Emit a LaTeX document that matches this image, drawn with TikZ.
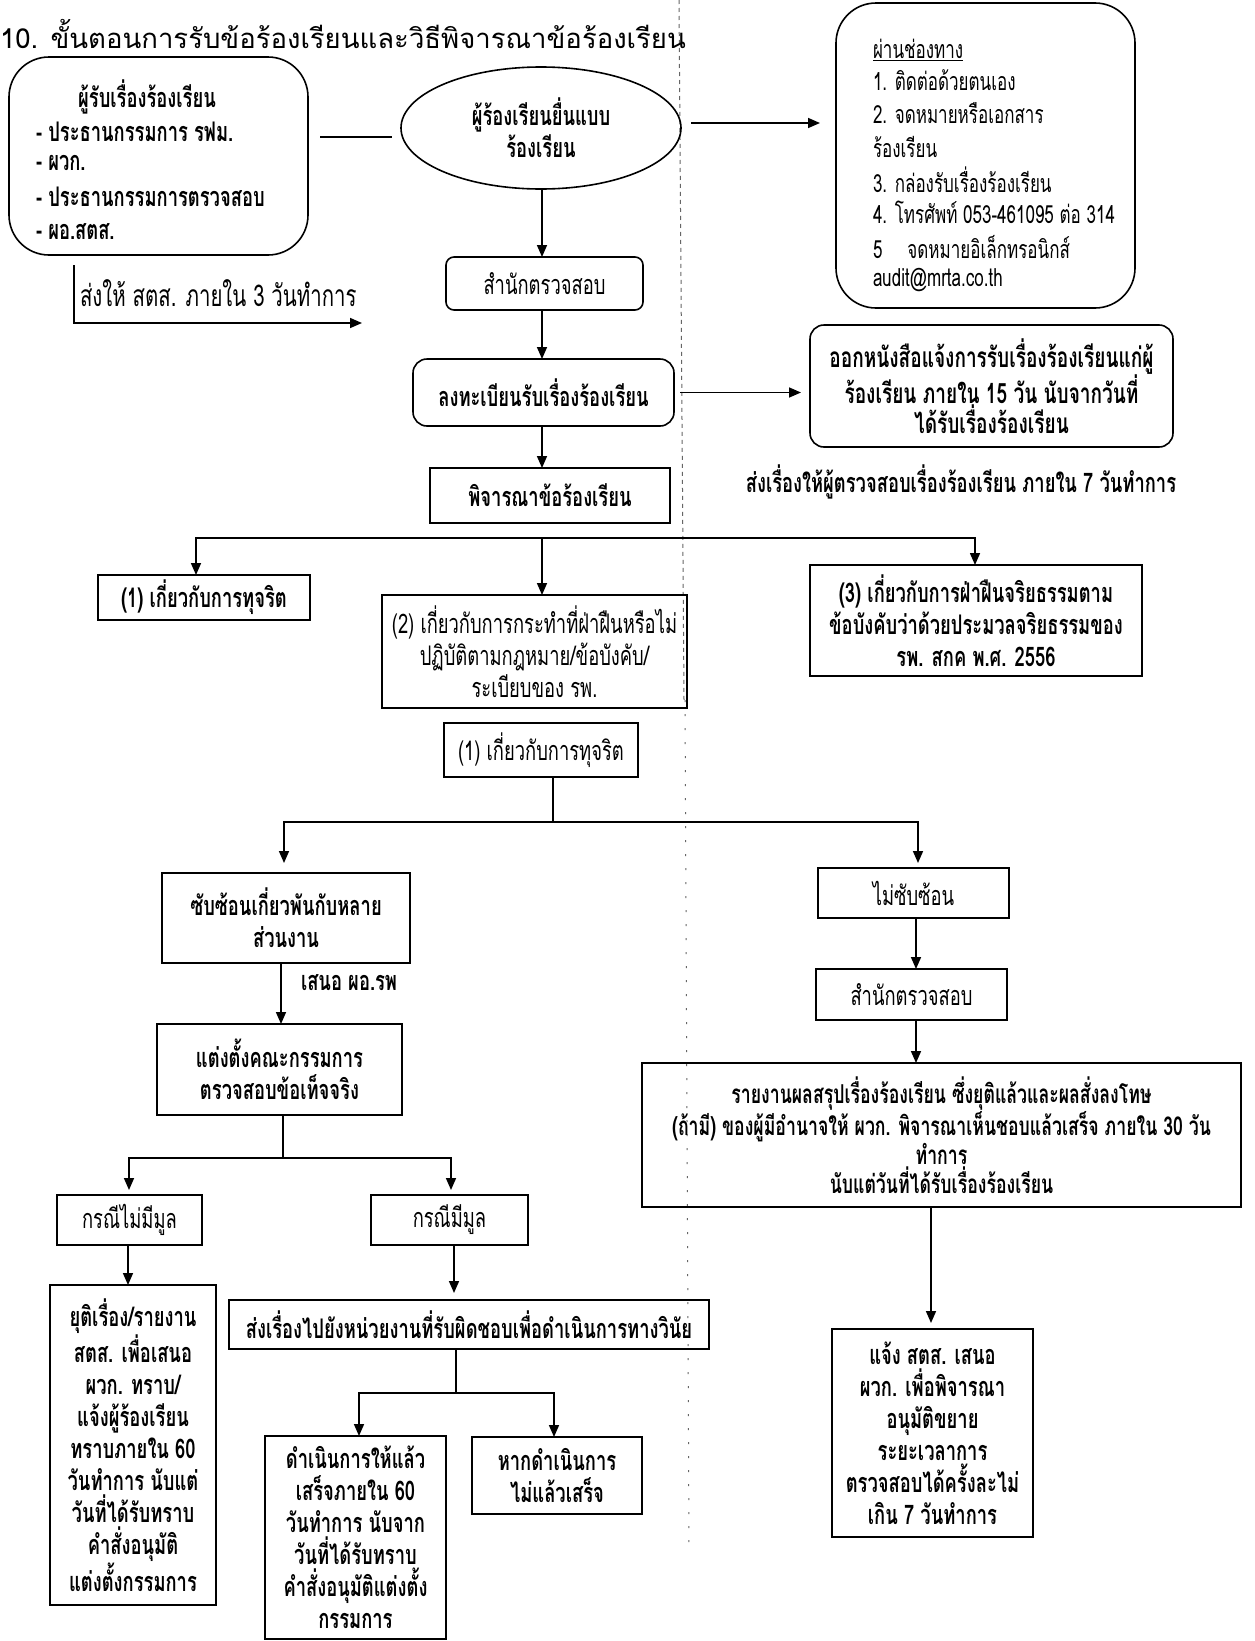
\documentclass[tikz,border=0pt]{standalone}
\usepackage{fontspec}
\usetikzlibrary{arrows.meta,shapes.geometric,calc}
\newfontfamily\thaic[Script=Thai,FakeStretch=0.68]{Loma}
\newfontfamily\thait[Script=Thai]{Loma}
\newcommand{\tfb}{\thaic\bfseries\fontsize{27}{32}\selectfont}
\newcommand{\tfr}{\thaic\fontsize{27}{32}\selectfont}
\newcommand{\tfrB}{\thaic\fontsize{25}{32}\selectfont}
\newcommand{\tfbF}{\thaic\bfseries\fontsize{28}{27.5}\selectfont}
\newcommand{\tfbR}{\thaic\bfseries\fontsize{26}{29}\selectfont}
\newcommand{\tfl}{\thaic\fontsize{30}{32}\selectfont}
\newcommand{\tft}{\thait\fontsize{27.5}{34}\selectfont}
\begin{document}
\begin{tikzpicture}[x=1pt,y=-1pt,
  every node/.style={inner sep=0pt,outer sep=0pt},
  box/.style={draw,line width=1.6pt,align=center,font=\tfb},
  rbox/.style={box,rounded corners=#1},
  rbox/.default=10,
  ln/.style={line width=1.6pt},
  arr/.style={ln,-{Triangle[length=12pt,width=10pt]}},
  scan/.style={black!60,line width=1pt}]
\useasboundingbox (0,0) rectangle (1255,1641);
\fill[white] (0,0) rectangle (1255,1641);

% scan fold line
\draw[scan,dash pattern=on 4pt off 4pt] (679,0) -- (684,700);
\draw[scan,dash pattern=on 2pt off 12pt] (685,700) -- (689,1545);

% title
\node[anchor=west,font=\tft] (title) at (0,34) {10. ขั้นตอนการรับข้อร้องเรียนและวิธีพิจารณาข้อร้องเรียน};

% box A
\node[rbox=40,minimum width=299,minimum height=198] (boxA) at (158.5,156) {};
\node[font=\tfb] (A0) at (147,97) {ผู้รับเรื่องร้องเรียน};
\node[font=\tfb,anchor=west] (A1) at (36,132) {- ประธานกรรมการ รฟม.};
\node[font=\tfb,anchor=west] (A2) at (36,163) {- ผวก.};
\node[font=\tfb,anchor=west] (A3) at (36,197) {- ประธานกรรมการตรวจสอบ};
\node[font=\tfb,anchor=west] (A4) at (36,232) {- ผอ.สตส.};

% ellipse
\node[draw,ellipse,line width=1.6pt,minimum width=280,minimum height=122,align=center,font=\tfb] (ell) at (541,128) {ผู้ร้องเรียนยื่นแบบ\\ร้องเรียน};

% box B
\node[rbox=40,minimum width=299,minimum height=305] (boxB) at (985.5,155.5) {};
\node[font=\tfrB,anchor=west] (B0) at (873,50) {\underline{ผ่านช่องทาง}};
\node[font=\tfrB,anchor=west] (B1) at (873,80) {1. ติดต่อด้วยตนเอง};
\node[font=\tfrB,anchor=west] (B2) at (873,113) {2. จดหมายหรือเอกสาร};
\node[font=\tfrB,anchor=west] (B3) at (873,147) {ร้องเรียน};
\node[font=\tfrB,anchor=west] (B4) at (873,180) {3. กล่องรับเรื่องร้องเรียน};
\node[font=\tfrB,anchor=west] (B5) at (873,212) {4. โทรศัพท์ 053-461095 ต่อ 314};
\node[font=\tfrB,anchor=west] (B6) at (873,247) {5\quad จดหมายอิเล็กทรอนิกส์};
\node[font=\tfrB,anchor=west] (B7) at (873,280) {audit@mrta.co.th};

% main column
\node[rbox=8,font=\tfr,minimum width=197,minimum height=53] (boxC) at (544.5,283.5) {สำนักตรวจสอบ};
\node[rbox=14,minimum width=261,minimum height=67] (boxD) at (543.5,392.5) {ลงทะเบียนรับเรื่องร้องเรียน};
\node[rbox=14,font=\tfbF,minimum width=363,minimum height=122] (boxF) at (991.5,386) {ออกหนังสือแจ้งการรับเรื่องร้องเรียนแก่ผู้\\ร้องเรียน ภายใน 15 วัน นับจากวันที่\\ได้รับเรื่องร้องเรียน};
\node[font=\tfb] (lab7) at (961,482) {ส่งเรื่องให้ผู้ตรวจสอบเรื่องร้องเรียน ภายใน 7 วันทำการ};
\node[box,minimum width=240,minimum height=55] (boxE) at (550,495.5) {พิจารณาข้อร้องเรียน};
\node[font=\tfl,anchor=west] (lab3) at (80,293) {ส่งให้ สตส. ภายใน 3 วันทำการ};

% three categories
\node[box,minimum width=212,minimum height=45] (b1) at (204,597.5) {(1) เกี่ยวกับการทุจริต};
\node[box,font=\tfr,minimum width=305,minimum height=113] (b2) at (534.5,651.5) {(2) เกี่ยวกับการกระทำที่ฝ่าฝืนหรือไม่\\ปฏิบัติตามกฎหมาย/ข้อบังคับ/\\ระเบียบของ รพ.};
\node[box,minimum width=332,minimum height=111] (b3) at (976,620.5) {(3) เกี่ยวกับการฝ่าฝืนจริยธรรมตาม\\ข้อบังคับว่าด้วยประมวลจริยธรรมของ\\รพ. สกค พ.ศ. 2556};
\node[box,font=\tfr,minimum width=194,minimum height=54] (b4) at (541,750) {(1) เกี่ยวกับการทุจริต};

% left branch
\node[box,minimum width=248,minimum height=90] (sub1) at (286,918) {ซับซ้อนเกี่ยวพันกับหลาย\\ส่วนงาน};
\node[font=\tfb,anchor=west] (labP) at (301,983) {เสนอ ผอ.รพ};
\node[box,minimum width=245,minimum height=91] (sub2) at (279.5,1069.5) {แต่งตั้งคณะกรรมการ\\ตรวจสอบข้อเท็จจริง};
\node[box,font=\tfr,minimum width=145,minimum height=50] (nomul) at (129.5,1220) {กรณีไม่มีมูล};
\node[box,font=\tfr,minimum width=157,minimum height=50] (mul) at (449.5,1220) {กรณีมีมูล};
\node[box,minimum width=166,minimum height=320] (stop) at (133,1445) {ยุติเรื่อง/รายงาน\\สตส. เพื่อเสนอ\\ผวก. ทราบ/\\แจ้งผู้ร้องเรียน\\ทราบภายใน 60\\วันทำการ นับแต่\\วันที่ได้รับทราบ\\คำสั่งอนุมัติ\\แต่งตั้งกรรมการ};
\node[box,minimum width=480,minimum height=49] (send) at (469,1324.5) {ส่งเรื่องไปยังหน่วยงานที่รับผิดชอบเพื่อดำเนินการทางวินัย};
\node[box,minimum width=181,minimum height=203] (do) at (355.5,1537.5) {ดำเนินการให้แล้ว\\เสร็จภายใน 60\\วันทำการ นับจาก\\วันที่ได้รับทราบ\\คำสั่งอนุมัติแต่งตั้ง\\กรรมการ};
\node[box,minimum width=170,minimum height=77] (undone) at (557,1475.5) {หากดำเนินการ\\ไม่แล้วเสร็จ};

% right branch
\node[box,font=\tfr,minimum width=191,minimum height=50] (nsub) at (913.5,893) {ไม่ซับซ้อน};
\node[box,font=\tfr,minimum width=191,minimum height=51] (off2) at (911.5,994.5) {สำนักตรวจสอบ};
\node[box,font=\tfbR,minimum width=599,minimum height=144] (report) at (941.5,1135) {รายงานผลสรุปเรื่องร้องเรียน ซึ่งยุติแล้วและผลสั่งลงโทษ\\(ถ้ามี) ของผู้มีอำนาจให้ ผวก. พิจารณาเห็นชอบแล้วเสร็จ ภายใน 30 วัน\\ทำการ\\นับแต่วันที่ได้รับเรื่องร้องเรียน};
\node[box,minimum width=201,minimum height=208] (notify) at (932.5,1433) {แจ้ง สตส. เสนอ\\ผวก. เพื่อพิจารณา\\อนุมัติขยาย\\ระยะเวลาการ\\ตรวจสอบได้ครั้งละไม่\\เกิน 7 วันทำการ};

% helper coordinates
\coordinate (lineY) at (0,137);
\coordinate (arrowY) at (0,123);
\coordinate (colx) at (542,0);
\coordinate (sendX) at (74,0);
\coordinate (sendEnd) at (362,323);
\coordinate (bus1) at (542,538);
\coordinate (x196) at (196,0);
\coordinate (x975) at (975,0);
\coordinate (x553) at (553,0);
\coordinate (bus2) at (553,822);
\coordinate (x284) at (284,0);
\coordinate (x918) at (918,0);
\coordinate (x281) at (281,0);
\coordinate (bus3) at (283,1158);
\coordinate (x129) at (129,0);
\coordinate (x451) at (451,0);
\coordinate (x128) at (128,0);
\coordinate (x454) at (454,0);
\coordinate (bus4) at (456,1393);
\coordinate (x359) at (359,0);
\coordinate (x554) at (554,0);
\coordinate (x916) at (916,0);
\coordinate (x931) at (931,0);

% connectors
\draw[ln,shorten <=12pt,shorten >=9pt] (boxA.east |- lineY) -- (ell.west |- lineY);
\draw[arr,shorten <=10pt,shorten >=16pt] (ell.east |- arrowY) -- (boxB.west |- arrowY);
\draw[arr] ($(boxA.south -| sendX)+(0,10)$) |- (sendEnd);
\draw[arr] (ell.south -| colx) -- (boxC.north -| colx);
\draw[arr] (boxC.south -| colx) -- (boxD.north -| colx);
\draw[arr,shorten <=6pt,shorten >=9pt] (boxD.east) -- (boxD.east -| boxF.west);
\draw[arr] (boxD.south -| colx) -- (boxE.north -| colx);
\draw[arr] (bus1) -| (b1.north -| x196);
\draw[arr] (bus1) -| (b3.north -| x975);
\draw[arr] (bus1) -- (b2.north -| colx);
\draw[ln] (b4.south -| x553) -- (bus2);
\draw[arr,shorten >=10pt] (bus2) -| (sub1.north -| x284);
\draw[arr,shorten >=5pt] (bus2) -| (nsub.north -| x918);
\draw[arr] (sub1.south -| x281) -- (sub2.north -| x281);
\draw[ln] (sub2.south -| bus3) -- (bus3);
\draw[arr,shorten >=5pt] (bus3) -| (nomul.north -| x129);
\draw[arr,shorten >=5pt] (bus3) -| (mul.north -| x451);
\draw[arr] (nomul.south -| x128) -- (stop.north -| x128);
\draw[arr,shorten >=7pt] (mul.south -| x454) -- (send.north -| x454);
\draw[ln] (send.south -| bus4) -- (bus4);
\draw[arr] (bus4) -| (do.north -| x359);
\draw[arr] (bus4) -| (undone.north -| x554);
\draw[arr] (nsub.south -| x916) -- (off2.north -| x916);
\draw[arr] (off2.south -| x916) -- (report.north -| x916);
\draw[arr,shorten >=6pt] (report.south -| x931) -- (notify.north -| x931);
\end{tikzpicture}
\end{document}
